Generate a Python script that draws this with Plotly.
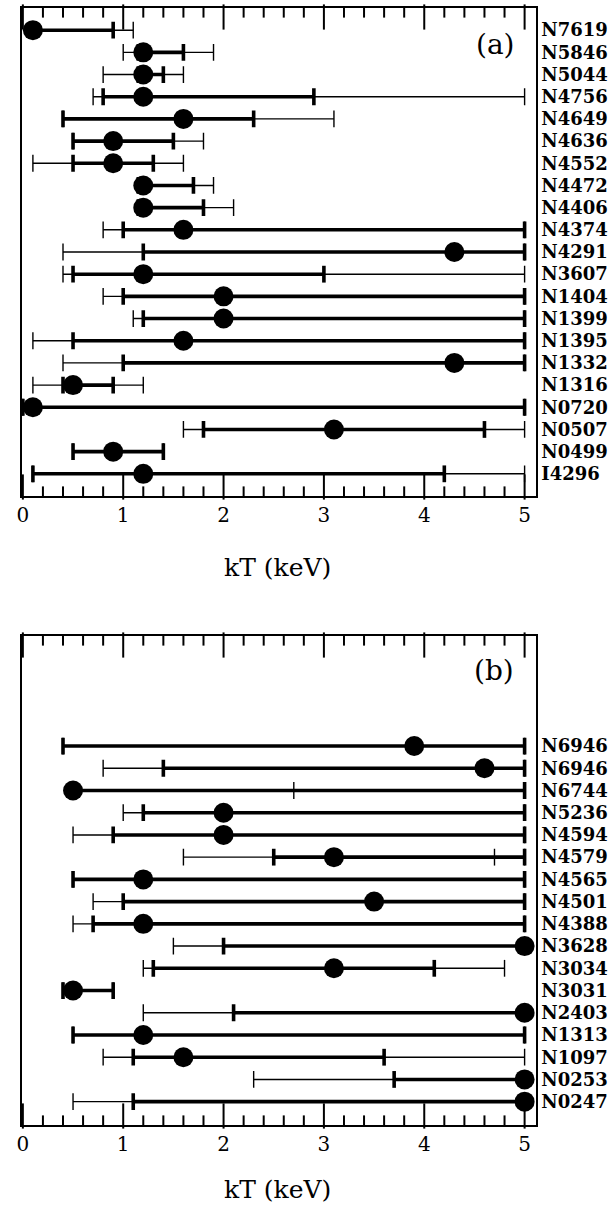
import plotly.graph_objects as go

# ---- Panel (a) ----
names_a = ["N7619", "N5846", "N5044", "N4756", "N4649", "N4636", "N4552",
           "N4472", "N4406", "N4374", "N4291", "N3607", "N1404", "N1399",
           "N1395", "N1332", "N1316", "N0720", "N0507", "N0499", "I4296"]
kt_a = [0.1, 1.2, 1.2, 1.2, 1.6, 0.9, 0.9, 1.2, 1.2, 1.6, 4.3, 1.2, 2.0, 2.0,
        1.6, 4.3, 0.5, 0.1, 3.1, 0.9, 1.2]
in_lo_a = [0.1, 1.15, 1.15, 0.8, 0.4, 0.5, 0.5, 1.15, 1.15, 1.0, 1.2, 0.5, 1.0,
           1.2, 0.5, 1.0, 0.4, 0.0, 1.8, 0.5, 0.1]
in_hi_a = [0.9, 1.6, 1.4, 2.9, 2.3, 1.5, 1.3, 1.7, 1.8, 5.0, 5.0, 3.0, 5.0, 5.0,
           5.0, 5.0, 0.9, 5.0, 4.6, 1.4, 4.2]
out_lo_a = [0.1, 1.0, 0.8, 0.7, 0.4, 0.5, 0.1, 1.15, 1.15, 0.8, 0.4, 0.4, 0.8,
            1.1, 0.1, 0.4, 0.1, 0.0, 1.6, 0.5, 0.1]
out_hi_a = [1.1, 1.9, 1.6, 5.0, 3.1, 1.8, 1.6, 1.9, 2.1, 5.0, 5.0, 5.0, 5.0, 5.0,
            5.0, 5.0, 1.2, 5.0, 5.0, 1.4, 5.0]
mark_a = [None] * len(names_a)

# ---- Panel (b) ----
names_b = ["N6946", "N6946", "N6744", "N5236", "N4594", "N4579", "N4565",
           "N4501", "N4388", "N3628", "N3034", "N3031", "N2403", "N1313",
           "N1097", "N0253", "N0247"]
kt_b = [3.9, 4.6, 0.5, 2.0, 2.0, 3.1, 1.2, 3.5, 1.2, 5.0, 3.1, 0.5, 5.0, 1.2,
        1.6, 5.0, 5.0]
in_lo_b = [0.4, 1.4, 0.5, 1.2, 0.9, 2.5, 0.5, 1.0, 0.7, 2.0, 1.3, 0.4, 2.1, 0.5,
           1.1, 3.7, 1.1]
in_hi_b = [5.0, 5.0, 5.0, 5.0, 5.0, 5.0, 5.0, 5.0, 5.0, 5.0, 4.1, 0.9, 5.0, 5.0,
           3.6, 5.0, 5.0]
out_lo_b = [0.4, 0.8, 0.5, 1.0, 0.5, 1.6, 0.5, 0.7, 0.5, 1.5, 1.2, 0.4, 1.2, 0.5,
            0.8, 2.3, 0.5]
out_hi_b = [5.0, 5.0, 5.0, 5.0, 5.0, 5.0, 5.0, 5.0, 5.0, 5.0, 4.8, 0.9, 5.0, 5.0,
            5.0, 5.0, 5.0]
mark_b = [None, None, 2.7, None, None, 4.7, None, None, None, None, None, None,
          None, None, None, None, None]

# axis ticks (keV)
major_ticks = [0, 1, 2, 3, 4, 5]
minor_ticks = [round(0.2 * k, 1) for k in range(26) if k % 5 != 0]

W, H = 613, 1211
BLACK = "black"
SERIF = "DejaVu Serif"
X_RANGE = [-0.01, 5.11]
MAJOR_LEN, MINOR_LEN = 18, 8


def segments(lo, hi):
    xs, ys = [], []
    for i, (a, b) in enumerate(zip(lo, hi)):
        xs += [a, b, None]
        ys += [i, i, None]
    return xs, ys


def vbar_marker(width, size=12):
    return dict(symbol="line-ns-open", size=size, color=BLACK,
                line=dict(color=BLACK, width=width))


def add_panel(fig, xa, ya, kt, in_lo, in_hi, out_lo, out_hi, mark):
    rows = list(range(len(kt)))
    common = dict(xaxis=xa, yaxis=ya, showlegend=False, hoverinfo="skip")
    # outer range (thin)
    xs, ys = segments(out_lo, out_hi)
    fig.add_trace(go.Scatter(x=xs, y=ys, mode="lines",
                             line=dict(color=BLACK, width=1.4), **common))
    # inner range (thick)
    xs, ys = segments(in_lo, in_hi)
    fig.add_trace(go.Scatter(x=xs, y=ys, mode="lines",
                             line=dict(color=BLACK, width=3.6), **common))
    # end caps
    fig.add_trace(go.Scatter(x=out_lo + out_hi, y=rows + rows, mode="markers",
                             marker=vbar_marker(1.4), **common))
    fig.add_trace(go.Scatter(x=in_lo + in_hi, y=rows + rows, mode="markers",
                             marker=vbar_marker(3.6), **common))
    # additional thin marks
    mx = [m for m in mark if m is not None]
    my = [i for i, m in enumerate(mark) if m is not None]
    if mx:
        fig.add_trace(go.Scatter(x=mx, y=my, mode="markers",
                                 marker=vbar_marker(1.4), **common))
    # best-fit kT
    fig.add_trace(go.Scatter(x=kt, y=rows, mode="markers",
                             marker=dict(symbol="circle", size=20, color=BLACK,
                                         line=dict(width=0)),
                             cliponaxis=False, **common))


def add_frame_ticks(fig, xa, ya, y_range, panel_px):
    # inward tick marks hanging from the top and bottom frame edges
    bottom, top = y_range  # reversed axis: first value is the bottom edge
    per_px = (bottom - top) / panel_px
    common = dict(xaxis=xa, yaxis=ya, showlegend=False, hoverinfo="skip",
                  mode="markers", cliponaxis=False)
    for vals, length in ((major_ticks, MAJOR_LEN), (minor_ticks, MINOR_LEN)):
        half = 0.5 * length * per_px
        ys = [bottom - half] * len(vals) + [top + half] * len(vals)
        fig.add_trace(go.Scatter(x=vals + vals, y=ys,
                                 marker=vbar_marker(2.0, size=length),
                                 **common))


top_a, bot_a = 8, 496
top_b, bot_b = 636, 1125
yrange_a = [21.0, -1.0]
yrange_b = [17.05, -4.95]

fig = go.Figure()
add_panel(fig, "x", "y", kt_a, in_lo_a, in_hi_a, out_lo_a, out_hi_a, mark_a)
add_panel(fig, "x2", "y2", kt_b, in_lo_b, in_hi_b, out_lo_b, out_hi_b, mark_b)
add_frame_ticks(fig, "x", "y", yrange_a, bot_a - top_a)
add_frame_ticks(fig, "x2", "y2", yrange_b, bot_b - top_b)

xdom = [17 / W, 535 / W]
ydom_a = [1 - bot_a / H, 1 - top_a / H]
ydom_b = [1 - bot_b / H, 1 - top_b / H]

x_style = dict(
    range=X_RANGE, domain=xdom, showgrid=False, zeroline=False,
    showline=True, linecolor=BLACK, linewidth=2, mirror=True,
    ticks="", tickmode="array", tickvals=major_ticks,
    ticktext=[str(v) for v in major_ticks],
    tickfont=dict(family=SERIF, size=20, color=BLACK),
)


def yaxis_style(names, dom, rng):
    return dict(
        domain=dom, range=rng, side="right", showgrid=False, zeroline=False,
        showline=True, linecolor=BLACK, linewidth=2, mirror=True, ticks="",
        tickmode="array", tickvals=list(range(len(names))), ticktext=names,
        tickfont=dict(family=SERIF, size=18, color=BLACK, weight="bold"),
    )


fig.update_layout(
    width=W, height=H, margin=dict(l=0, r=0, t=0, b=0),
    paper_bgcolor="white", plot_bgcolor="white",
    xaxis=dict(anchor="y", **x_style),
    xaxis2=dict(anchor="y2", **x_style),
    yaxis=dict(anchor="x", **yaxis_style(names_a, ydom_a, yrange_a)),
    yaxis2=dict(anchor="x2", **yaxis_style(names_b, ydom_b, yrange_b)),
)

annots = [
    ("kT (keV)", 275, 567, 25),
    ("kT (keV)", 275, 1189, 25),
    ("(a)", 495, 44, 28),
    ("(b)", 493, 670, 28),
]
for text, px, py, size in annots:
    fig.add_annotation(text=text, xref="paper", yref="paper",
                       x=px / W, y=1 - py / H, xanchor="center",
                       yanchor="middle", showarrow=False,
                       font=dict(family=SERIF, size=size, color=BLACK))

fig.write_html("out.html")
